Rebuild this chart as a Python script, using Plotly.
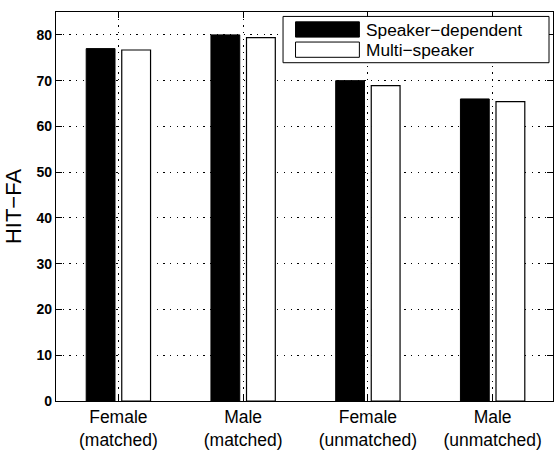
import plotly.graph_objects as go

# HIT-FA scores per test condition
categories = ["Female<br>(matched)", "Male<br>(matched)",
              "Female<br>(unmatched)", "Male<br>(unmatched)"]
positions = [1, 2, 3, 4]
speaker_dependent = [77.0, 80.0, 70.0, 66.0]
multi_speaker = [76.7, 79.4, 68.9, 65.4]
series_names = ["Speaker\u2212dependent", "Multi\u2212speaker"]
y_ticks = [0, 10, 20, 30, 40, 50, 60, 70, 80]

FONT = "Liberation Sans, Arial, Helvetica, sans-serif"
W, H = 554, 450
L, R, T, B = 56, 0, 12, 43

fig = go.Figure()
fig.add_trace(go.Bar(
    x=positions, y=speaker_dependent, name=series_names[0],
    marker=dict(color="black", line=dict(color="black", width=1)),
    showlegend=False,
))
fig.add_trace(go.Bar(
    x=positions, y=multi_speaker, name=series_names[1],
    marker=dict(color="white", line=dict(color="black", width=1.2)),
    showlegend=False,
))

grid = dict(showgrid=True, gridcolor="black", gridwidth=1.3, griddash="1.3px,5.4px")

fig.update_xaxes(
    range=[0.5, 4.484], tickvals=positions, ticktext=categories,
    ticks="inside", ticklen=6, tickcolor="black", tickwidth=1,
    showline=True, linecolor="black", linewidth=1.3, mirror="ticks",
    tickfont=dict(family=FONT, size=17.5, color="black"),
    zeroline=False, **grid,
)
fig.update_yaxes(
    range=[0, 85], tickvals=y_ticks,
    ticks="inside", ticklen=6, tickcolor="black", tickwidth=1,
    showline=True, linecolor="black", linewidth=1.3, mirror="ticks",
    tickfont=dict(family=FONT, size=14, color="black", weight="bold"),
    title=dict(text="HIT\u2212FA", font=dict(family=FONT, size=22, color="black"),
               standoff=8),
    zeroline=False, **grid,
)

# Legend drawn as a boxed key with wide swatches
pw, ph = W - L - R, H - T - B


def px_x(v):
    return (v - L) / pw


def px_y(v):
    return (H - B - v) / ph


shapes = [
    dict(type="rect", xref="paper", yref="paper",
         x0=px_x(283.5), x1=px_x(550), y0=px_y(63.5), y1=px_y(16.5),
         fillcolor="white", line=dict(color="black", width=1), layer="above"),
    dict(type="rect", xref="paper", yref="paper",
         x0=px_x(296), x1=px_x(360), y0=px_y(37.5), y1=px_y(22),
         fillcolor="black", line=dict(color="black", width=1), layer="above"),
    dict(type="rect", xref="paper", yref="paper",
         x0=px_x(296), x1=px_x(360), y0=px_y(58), y1=px_y(42.5),
         fillcolor="white", line=dict(color="black", width=1), layer="above"),
]
annotations = [
    dict(xref="paper", yref="paper", x=px_x(365), y=px_y(30), text=series_names[0],
         showarrow=False, xanchor="left", yanchor="middle",
         font=dict(family=FONT, size=17.3, color="black")),
    dict(xref="paper", yref="paper", x=px_x(365), y=px_y(50.5), text=series_names[1],
         showarrow=False, xanchor="left", yanchor="middle",
         font=dict(family=FONT, size=17.3, color="black")),
]

fig.update_layout(
    width=W, height=H,
    margin=dict(l=L, r=R, t=T, b=B),
    paper_bgcolor="white", plot_bgcolor="white",
    barmode="group", bargap=0.43, bargroupgap=0.19,
    shapes=shapes, annotations=annotations,
    font=dict(family=FONT, color="black"),
)

fig.write_html("out.html")
